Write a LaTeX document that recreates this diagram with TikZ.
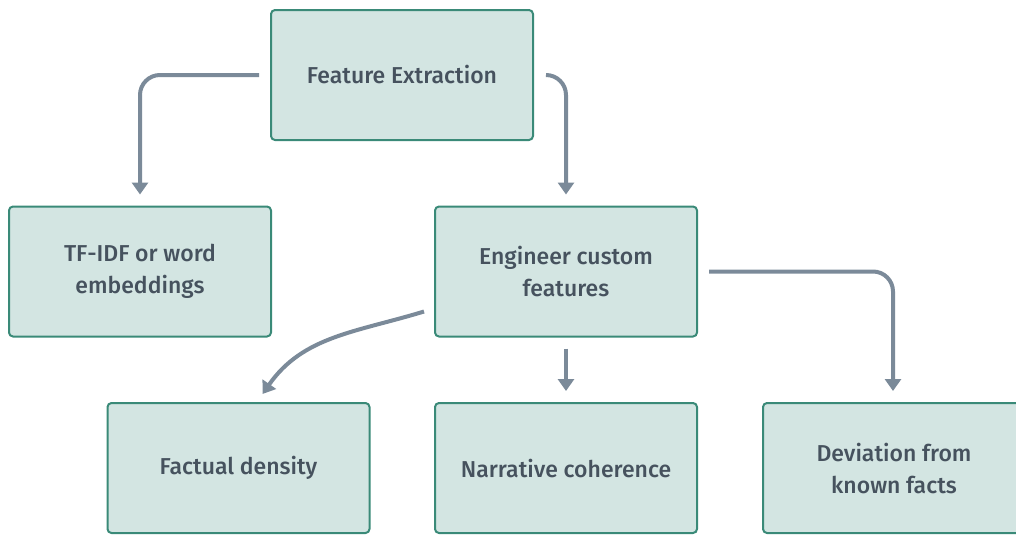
\documentclass[tikz,border=0pt]{standalone}
\usepackage{fontspec}
\setmainfont{Fira Sans}[UprightFont=* Medium]
\usepackage{tikz}
\usetikzlibrary{arrows.meta}

\definecolor{boxfill}{HTML}{D3E5E2}
\definecolor{boxline}{HTML}{3A8A78}
\definecolor{arrowcol}{HTML}{7B8A99}
\definecolor{textcol}{HTML}{46525E}

\begin{document}
\begin{tikzpicture}
  [x=1pt,y=-1pt,
   every node/.style={rectangle,rounded corners=4pt,draw=boxline,line width=2pt,
     fill=boxfill,minimum width=262pt,minimum height=130pt,align=center,
     text=textcol,font=\fontsize{23}{32}\selectfont},
   link/.style={draw=arrowcol,line width=4pt,rounded corners=20pt,
     -{Triangle[length=12pt,width=16pt]}}]
  \useasboundingbox (0,0) rectangle (1016,536);

  \node (fe)  at (402,75)    {Feature Extraction};
  \node (tf)  at (140,271.5) {TF-IDF or word\\embeddings};
  \node (eng) at (566,271.5) {Engineer custom\\features};
  \node (fd)  at (238.5,468) {Factual density};
  \node (nc)  at (566,468)   {Narrative coherence};
  \node (dev) at (894,468)   {Deviation from\\known facts};

  \draw[link] ([xshift=-11pt]fe.west) -| ([yshift=11pt]tf.north);
  \draw[link] ([xshift=12pt]fe.east) -| ([yshift=11pt]eng.north);
  \draw[link] ([xshift=11pt]eng.east) -| ([xshift=-1pt,yshift=11pt]dev.north);
  \draw[link] ([yshift=-11pt]eng.south) -- ([yshift=11pt]nc.north);
  \draw[link] ([xshift=-10pt,yshift=-40pt]eng.west)
    to[out=197,in=55] ([xshift=24pt,yshift=8pt]fd.north);
\end{tikzpicture}
\end{document}
